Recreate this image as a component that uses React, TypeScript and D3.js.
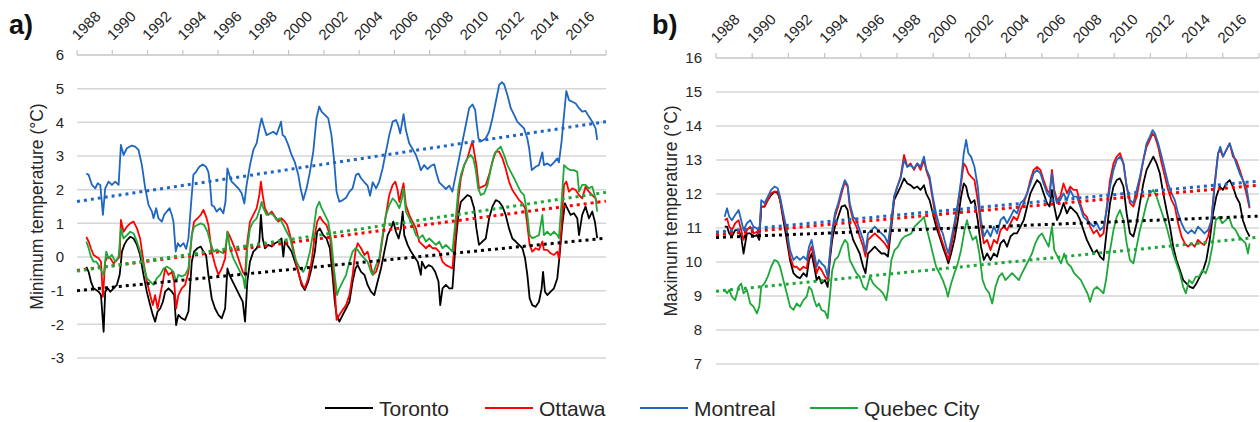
import React from 'react';
import * as d3 from 'd3';

type Pt = [number, number];

// Axis labels
const yearLabels = ['1988', '1990', '1992', '1994', '1996', '1998', '2000', '2002', '2004', '2006', '2008', '2010', '2012', '2014', '2016'];
const minTempTicks = [-3, -2, -1, 0, 1, 2, 3, 4, 5, 6];
const maxTempTicks = [7, 8, 9, 10, 11, 12, 13, 14, 15, 16];
const cities = ['Toronto', 'Ottawa', 'Montreal', 'Quebec City'];
const cityColors = ['#000000', '#ff0000', '#1f66c0', '#1fa83a'];

// a) minimum temperature, running mean (°C)
const minToronto: Pt[] = [[1988.53,-0.29],[1988.66,-0.44],[1988.79,-0.73],[1988.94,-0.93],[1989.09,-0.98],[1989.23,-1.03],[1989.36,-1.13],[1989.51,-2.22],[1989.60,-1.03],[1989.74,-0.93],[1989.89,-1.03],[1990.08,-0.93],[1990.26,-0.83],[1990.42,-0.53],[1990.55,0.16],[1990.68,0.36],[1990.83,0.50],[1991.02,0.60],[1991.21,0.55],[1991.40,0.36],[1991.58,0.06],[1991.77,-0.53],[1991.96,-1.03],[1992.15,-1.43],[1992.30,-1.72],[1992.43,-1.92],[1992.57,-1.62],[1992.72,-1.53],[1992.87,-1.33],[1993.00,-1.03],[1993.19,-0.93],[1993.38,-1.03],[1993.51,-1.13],[1993.62,-2.02],[1993.75,-1.72],[1993.94,-1.82],[1994.13,-1.87],[1994.32,-1.62],[1994.51,-0.14],[1994.64,0.16],[1994.83,0.26],[1995.02,0.31],[1995.17,0.16],[1995.32,0.06],[1995.45,-0.53],[1995.64,-1.23],[1995.83,-1.53],[1996.02,-1.72],[1996.21,-1.82],[1996.40,-1.53],[1996.53,-0.34],[1996.64,-0.53],[1996.83,-0.73],[1997.02,-0.93],[1997.21,-1.13],[1997.40,-1.33],[1997.53,-1.92],[1997.66,-0.73],[1997.81,-0.14],[1998.00,0.16],[1998.19,0.26],[1998.34,0.46],[1998.43,1.25],[1998.53,0.55],[1998.66,0.26],[1998.85,0.36],[1999.04,0.31],[1999.23,0.41],[1999.42,0.46],[1999.60,0.55],[1999.70,0.01],[1999.79,0.46],[1999.98,0.31],[2000.17,0.16],[2000.36,-0.14],[2000.55,-0.44],[2000.74,-0.83],[2000.92,-0.98],[2001.11,-0.73],[2001.30,-0.34],[2001.49,0.16],[2001.62,0.75],[2001.77,0.85],[2001.96,0.65],[2002.15,0.55],[2002.34,0.26],[2002.49,-0.53],[2002.62,-1.33],[2002.72,-1.72],[2002.88,-1.92],[2003.07,-1.72],[2003.26,-1.53],[2003.45,-1.33],[2003.63,-0.73],[2003.79,-0.34],[2003.92,-0.24],[2004.11,-0.44],[2004.30,-0.53],[2004.48,-0.83],[2004.67,-1.03],[2004.86,-1.13],[2005.05,-0.73],[2005.24,-0.34],[2005.43,0.16],[2005.62,0.65],[2005.81,0.85],[2005.94,1.05],[2006.09,0.75],[2006.24,0.55],[2006.37,0.85],[2006.47,1.35],[2006.56,0.65],[2006.75,0.36],[2006.94,0.16],[2007.13,0.01],[2007.32,-0.14],[2007.50,-0.53],[2007.56,-0.14],[2007.75,-0.34],[2007.94,-0.24],[2008.13,-0.29],[2008.31,-0.44],[2008.50,-0.73],[2008.60,-1.43],[2008.73,-0.93],[2008.92,-0.83],[2009.11,-0.93],[2009.29,-0.93],[2009.48,0.46],[2009.63,1.25],[2009.77,1.64],[2009.96,1.74],[2010.14,1.84],[2010.33,1.79],[2010.52,1.45],[2010.65,0.85],[2010.80,0.36],[2010.99,0.46],[2011.18,0.55],[2011.37,1.15],[2011.56,1.50],[2011.75,1.69],[2011.94,1.64],[2012.13,1.50],[2012.31,1.25],[2012.50,0.85],[2012.69,0.55],[2012.88,0.46],[2013.07,0.36],[2013.26,0.26],[2013.41,-0.04],[2013.54,-0.53],[2013.67,-1.23],[2013.82,-1.43],[2014.01,-1.48],[2014.20,-1.33],[2014.35,-0.93],[2014.43,-0.44],[2014.54,-1.03],[2014.67,-1.13],[2014.86,-1.03],[2015.05,-0.93],[2015.24,-0.63],[2015.37,0.06],[2015.52,0.95],[2015.67,1.59],[2015.80,1.45],[2015.99,1.25],[2016.18,1.30],[2016.37,1.15],[2016.47,0.65],[2016.65,1.25],[2016.84,1.50],[2017.03,1.15],[2017.22,1.35],[2017.37,1.05],[2017.50,0.56]];
const minOttawa: Pt[] = [[1988.53,0.60],[1988.66,0.46],[1988.79,0.26],[1988.94,0.06],[1989.09,0.01],[1989.23,-0.04],[1989.36,-0.14],[1989.47,-1.18],[1989.60,-0.14],[1989.74,0.01],[1989.89,-0.04],[1990.08,-0.19],[1990.26,-0.09],[1990.42,0.01],[1990.49,1.10],[1990.64,0.75],[1990.83,0.90],[1991.02,1.00],[1991.21,1.05],[1991.40,0.85],[1991.58,0.55],[1991.77,-0.14],[1991.96,-0.73],[1992.15,-1.13],[1992.30,-1.43],[1992.43,-1.13],[1992.57,-1.53],[1992.72,-1.13],[1992.87,-0.73],[1993.00,-0.34],[1993.19,-0.53],[1993.38,-0.44],[1993.51,-0.73],[1993.62,-1.53],[1993.75,-1.13],[1993.94,-0.93],[1994.13,-0.83],[1994.32,-0.44],[1994.51,0.65],[1994.64,1.05],[1994.83,1.15],[1995.02,1.25],[1995.17,1.40],[1995.32,1.20],[1995.45,0.95],[1995.64,0.16],[1995.83,-0.24],[1996.02,-0.53],[1996.21,-0.34],[1996.40,-0.04],[1996.53,0.75],[1996.64,0.65],[1996.83,0.41],[1997.02,0.16],[1997.21,-0.14],[1997.40,-0.44],[1997.53,-0.53],[1997.66,0.46],[1997.81,1.05],[1998.00,1.25],[1998.19,1.45],[1998.34,1.84],[1998.43,2.24],[1998.53,1.84],[1998.66,1.45],[1998.85,1.25],[1999.04,1.35],[1999.23,1.20],[1999.42,1.05],[1999.60,1.15],[1999.79,1.05],[1999.92,0.95],[2000.08,0.65],[2000.26,0.26],[2000.45,-0.24],[2000.64,-0.63],[2000.79,-0.83],[2000.92,-0.93],[2001.11,-0.63],[2001.30,-0.14],[2001.49,0.65],[2001.62,1.05],[2001.77,1.20],[2001.96,1.05],[2002.15,0.95],[2002.34,0.65],[2002.49,-0.14],[2002.62,-0.93],[2002.72,-1.87],[2002.88,-1.72],[2003.07,-1.57],[2003.26,-1.43],[2003.45,-1.13],[2003.63,-0.53],[2003.79,0.16],[2003.92,0.41],[2004.11,0.26],[2004.30,0.06],[2004.48,0.16],[2004.62,-0.14],[2004.77,-0.53],[2004.96,-0.44],[2005.14,-0.14],[2005.33,0.55],[2005.52,1.25],[2005.71,1.84],[2005.90,2.14],[2006.05,2.24],[2006.18,1.99],[2006.28,1.64],[2006.43,1.99],[2006.52,2.19],[2006.65,1.54],[2006.84,1.25],[2007.03,1.05],[2007.22,0.85],[2007.41,0.46],[2007.60,0.36],[2007.79,0.26],[2007.98,0.36],[2008.16,0.26],[2008.35,0.26],[2008.54,0.16],[2008.73,-0.14],[2008.92,-0.24],[2009.11,-0.29],[2009.29,-0.34],[2009.48,0.75],[2009.63,1.74],[2009.77,2.34],[2009.96,2.73],[2010.14,2.93],[2010.33,3.28],[2010.43,3.43],[2010.52,3.13],[2010.65,2.73],[2010.80,2.04],[2010.99,2.09],[2011.18,2.14],[2011.37,2.44],[2011.56,2.83],[2011.75,3.13],[2011.94,3.13],[2012.13,2.93],[2012.31,2.63],[2012.50,2.24],[2012.69,1.99],[2012.88,1.84],[2013.07,1.69],[2013.26,1.59],[2013.41,1.45],[2013.54,0.95],[2013.67,0.36],[2013.82,0.16],[2014.01,0.26],[2014.20,0.21],[2014.39,0.46],[2014.48,0.21],[2014.67,0.21],[2014.86,0.11],[2015.05,0.06],[2015.24,0.16],[2015.33,-0.04],[2015.48,0.95],[2015.62,2.14],[2015.75,2.24],[2015.90,1.94],[2016.09,2.04],[2016.28,1.99],[2016.47,1.84],[2016.65,1.74],[2016.84,2.09],[2017.03,1.94],[2017.22,1.84],[2017.41,1.74],[2017.50,1.59]];
const minMontreal: Pt[] = [[1988.53,2.48],[1988.66,2.44],[1988.85,2.14],[1989.04,2.04],[1989.17,2.19],[1989.32,2.14],[1989.47,1.25],[1989.60,2.04],[1989.79,2.24],[1989.98,2.14],[1990.17,2.24],[1990.36,2.14],[1990.49,3.33],[1990.64,3.03],[1990.83,3.23],[1991.11,3.31],[1991.30,3.28],[1991.49,3.18],[1991.68,2.73],[1991.87,2.04],[1992.06,1.54],[1992.25,1.35],[1992.34,1.15],[1992.49,1.45],[1992.62,1.15],[1992.81,1.05],[1992.94,1.25],[1993.09,1.35],[1993.25,1.45],[1993.38,1.25],[1993.47,1.05],[1993.60,0.16],[1993.72,0.41],[1993.85,0.31],[1994.04,0.41],[1994.19,0.24],[1994.32,0.56],[1994.45,1.45],[1994.60,2.44],[1994.75,2.53],[1994.94,2.68],[1995.13,2.75],[1995.32,2.68],[1995.45,2.53],[1995.55,2.14],[1995.64,1.54],[1995.77,1.50],[1995.92,1.35],[1996.11,1.45],[1996.30,1.30],[1996.42,1.64],[1996.53,2.63],[1996.64,2.44],[1996.77,2.24],[1996.96,2.14],[1997.15,2.04],[1997.34,1.89],[1997.49,1.59],[1997.62,2.14],[1997.81,2.73],[1998.00,3.18],[1998.19,3.38],[1998.34,3.82],[1998.47,4.12],[1998.57,3.92],[1998.75,3.62],[1998.94,3.67],[1999.13,3.72],[1999.32,3.64],[1999.51,3.92],[1999.57,4.02],[1999.66,3.62],[1999.79,3.57],[1999.98,3.33],[2000.17,3.03],[2000.36,2.81],[2000.55,2.44],[2000.68,2.04],[2000.83,1.69],[2001.02,2.04],[2001.21,2.53],[2001.40,3.13],[2001.58,4.12],[2001.74,4.47],[2001.87,4.32],[2002.06,4.22],[2002.25,4.12],[2002.43,3.62],[2002.57,2.93],[2002.72,1.94],[2002.88,1.64],[2003.07,1.69],[2003.26,1.76],[2003.45,1.94],[2003.63,2.04],[2003.82,2.44],[2003.96,2.48],[2004.11,2.34],[2004.30,2.22],[2004.48,2.12],[2004.62,1.82],[2004.77,2.22],[2004.96,2.04],[2005.14,2.24],[2005.33,2.63],[2005.52,3.13],[2005.71,3.62],[2005.90,4.02],[2006.09,4.07],[2006.22,3.90],[2006.33,3.67],[2006.43,3.97],[2006.52,4.24],[2006.65,3.77],[2006.84,3.38],[2007.03,3.21],[2007.22,3.03],[2007.37,2.81],[2007.50,2.58],[2007.69,2.73],[2007.88,2.61],[2008.07,2.71],[2008.26,2.75],[2008.41,2.44],[2008.54,2.22],[2008.73,2.12],[2008.92,2.02],[2009.11,2.12],[2009.29,1.94],[2009.48,2.44],[2009.67,2.93],[2009.86,3.43],[2010.05,3.92],[2010.24,4.42],[2010.43,4.53],[2010.58,4.37],[2010.65,4.02],[2010.77,3.52],[2010.90,3.43],[2011.18,3.52],[2011.37,3.72],[2011.56,4.12],[2011.75,4.61],[2011.94,5.11],[2012.09,5.19],[2012.22,5.13],[2012.41,4.81],[2012.60,4.42],[2012.79,4.22],[2012.97,4.02],[2013.16,3.92],[2013.35,3.82],[2013.54,3.52],[2013.64,3.23],[2013.79,2.58],[2014.01,2.68],[2014.20,2.73],[2014.39,3.11],[2014.48,2.73],[2014.67,2.78],[2014.86,2.71],[2015.05,2.81],[2015.24,2.93],[2015.33,2.81],[2015.48,3.43],[2015.62,4.22],[2015.75,4.93],[2015.90,4.66],[2016.09,4.61],[2016.28,4.56],[2016.47,4.42],[2016.65,4.32],[2016.84,4.34],[2017.03,4.17],[2017.22,4.02],[2017.41,3.82],[2017.50,3.48]];
const minQuebec: Pt[] = [[1988.53,0.46],[1988.66,0.26],[1988.79,0.01],[1988.94,-0.14],[1989.09,-0.14],[1989.23,-0.24],[1989.36,-0.39],[1989.51,-0.53],[1989.66,0.16],[1989.79,-0.04],[1989.98,0.06],[1990.17,-0.14],[1990.36,0.01],[1990.49,0.85],[1990.64,0.55],[1990.83,0.65],[1991.02,0.75],[1991.21,0.70],[1991.40,0.46],[1991.58,0.16],[1991.77,-0.24],[1991.96,-0.63],[1992.15,-0.73],[1992.34,-0.83],[1992.53,-0.63],[1992.72,-0.53],[1992.91,-0.34],[1993.09,-0.29],[1993.28,-0.34],[1993.47,-0.44],[1993.62,-0.73],[1993.75,-0.53],[1993.94,-0.58],[1994.13,-0.53],[1994.32,-0.34],[1994.51,0.65],[1994.64,0.90],[1994.83,0.95],[1995.02,1.00],[1995.21,0.95],[1995.40,0.75],[1995.55,0.46],[1995.74,0.16],[1995.92,0.21],[1996.11,0.16],[1996.30,0.11],[1996.42,0.26],[1996.53,0.75],[1996.68,0.26],[1996.87,-0.04],[1997.06,-0.24],[1997.25,-0.44],[1997.43,-0.63],[1997.53,-0.93],[1997.66,0.26],[1997.81,0.85],[1998.00,1.05],[1998.19,1.15],[1998.38,1.45],[1998.47,1.64],[1998.57,1.45],[1998.75,1.25],[1998.94,1.30],[1999.13,1.25],[1999.32,1.10],[1999.51,1.15],[1999.70,0.95],[1999.89,0.75],[2000.08,0.56],[2000.26,0.16],[2000.45,-0.14],[2000.64,-0.34],[2000.83,-0.44],[2001.02,-0.24],[2001.21,0.16],[2001.40,0.75],[2001.58,1.45],[2001.74,1.64],[2001.87,1.45],[2002.06,1.25],[2002.25,1.05],[2002.43,0.46],[2002.57,-0.34],[2002.75,-1.13],[2002.88,-0.93],[2003.07,-0.73],[2003.26,-0.53],[2003.45,-0.14],[2003.63,0.16],[2003.79,0.26],[2003.92,0.21],[2004.11,0.06],[2004.30,-0.04],[2004.48,-0.14],[2004.67,-0.44],[2004.77,-0.53],[2004.96,-0.24],[2005.14,-0.04],[2005.33,0.65],[2005.52,1.25],[2005.71,1.54],[2005.90,1.74],[2006.09,1.64],[2006.28,1.45],[2006.43,1.74],[2006.52,2.04],[2006.65,1.35],[2006.84,1.15],[2007.03,0.95],[2007.22,0.65],[2007.41,0.56],[2007.60,0.65],[2007.79,0.46],[2007.98,0.55],[2008.16,0.46],[2008.35,0.36],[2008.54,0.46],[2008.73,0.26],[2008.92,0.36],[2009.11,0.26],[2009.29,0.16],[2009.48,1.15],[2009.63,2.04],[2009.77,2.44],[2009.96,2.73],[2010.14,2.93],[2010.33,3.03],[2010.47,2.93],[2010.60,2.63],[2010.75,2.04],[2010.90,1.84],[2011.09,1.89],[2011.28,2.14],[2011.47,2.63],[2011.65,3.03],[2011.84,3.18],[2012.03,3.28],[2012.22,3.03],[2012.41,2.73],[2012.60,2.53],[2012.79,2.34],[2012.97,2.14],[2013.16,1.94],[2013.35,1.84],[2013.54,1.25],[2013.67,0.65],[2013.82,0.56],[2014.01,0.60],[2014.20,0.65],[2014.39,1.25],[2014.48,0.65],[2014.67,0.75],[2014.86,0.65],[2015.05,0.75],[2015.24,0.65],[2015.33,0.56],[2015.48,1.64],[2015.62,2.73],[2015.81,2.63],[2015.99,2.58],[2016.18,2.58],[2016.37,2.53],[2016.47,1.94],[2016.65,2.14],[2016.84,2.14],[2017.03,2.04],[2017.22,2.09],[2017.41,1.74],[2017.50,1.35]];

// a) linear trends (value at 1988, value at 2018)
const minTrendToronto = [-1.0, 0.56];
const minTrendOttawa = [-0.40, 1.66];
const minTrendMontreal = [1.65, 4.02];
const minTrendQuebec = [-0.42, 1.92];

// b) maximum temperature, running mean (°C)
const maxToronto: Pt[] = [[1988.48,11.04],[1988.61,11.04],[1988.73,10.84],[1988.88,10.75],[1989.06,10.94],[1989.25,10.94],[1989.39,10.75],[1989.52,10.25],[1989.71,10.84],[1989.89,10.84],[1990.07,10.75],[1990.26,10.79],[1990.39,10.65],[1990.50,11.63],[1990.68,11.63],[1990.86,11.82],[1991.05,11.97],[1991.23,12.07],[1991.41,12.02],[1991.54,11.82],[1991.72,11.23],[1991.91,10.65],[1992.09,10.06],[1992.28,9.67],[1992.46,9.57],[1992.64,9.52],[1992.83,9.67],[1993.01,9.57],[1993.14,10.06],[1993.28,10.25],[1993.43,9.86],[1993.56,9.47],[1993.69,9.57],[1993.83,9.37],[1994.02,9.47],[1994.17,9.27],[1994.29,10.06],[1994.42,10.65],[1994.57,11.04],[1994.75,11.33],[1994.94,11.63],[1995.12,11.67],[1995.27,11.53],[1995.39,11.04],[1995.58,10.65],[1995.76,10.45],[1995.94,10.25],[1996.13,9.86],[1996.26,9.67],[1996.40,10.25],[1996.59,10.35],[1996.77,10.45],[1996.95,10.35],[1997.14,10.25],[1997.32,10.25],[1997.50,10.16],[1997.69,11.04],[1997.84,11.82],[1998.02,12.02],[1998.20,12.22],[1998.39,12.46],[1998.57,12.31],[1998.75,12.26],[1998.94,12.17],[1999.12,12.22],[1999.30,12.12],[1999.49,12.26],[1999.61,12.02],[1999.80,11.82],[1999.98,11.43],[2000.16,11.04],[2000.35,10.75],[2000.53,10.45],[2000.72,10.16],[2000.84,9.96],[2000.99,10.25],[2001.17,10.65],[2001.36,11.23],[2001.54,11.92],[2001.69,12.31],[2001.82,12.22],[2001.94,11.92],[2002.09,11.73],[2002.28,11.82],[2002.46,11.23],[2002.64,10.45],[2002.80,10.06],[2002.98,10.25],[2003.17,10.06],[2003.35,10.25],[2003.53,10.16],[2003.72,10.55],[2003.90,10.65],[2004.08,10.45],[2004.27,10.75],[2004.45,10.84],[2004.63,10.84],[2004.82,11.04],[2005.00,11.23],[2005.19,11.63],[2005.37,12.02],[2005.55,12.22],[2005.74,12.41],[2005.92,12.31],[2006.10,12.02],[2006.29,11.73],[2006.43,11.63],[2006.56,12.12],[2006.69,11.63],[2006.84,11.23],[2007.02,11.43],[2007.20,11.73],[2007.39,11.43],[2007.57,11.63],[2007.75,11.53],[2007.94,11.43],[2008.12,11.23],[2008.30,10.94],[2008.49,10.65],[2008.67,10.45],[2008.86,10.25],[2009.04,10.35],[2009.22,10.16],[2009.41,10.06],[2009.59,10.94],[2009.77,11.73],[2009.96,12.22],[2010.14,12.41],[2010.32,12.46],[2010.51,12.22],[2010.69,11.43],[2010.87,10.84],[2011.06,10.75],[2011.24,11.14],[2011.42,11.73],[2011.61,12.31],[2011.79,12.71],[2011.97,12.90],[2012.16,13.10],[2012.34,12.90],[2012.52,12.61],[2012.71,12.02],[2012.89,11.53],[2013.08,11.04],[2013.26,10.45],[2013.44,10.06],[2013.63,9.76],[2013.81,9.47],[2013.99,9.37],[2014.18,9.27],[2014.36,9.23],[2014.54,9.37],[2014.73,9.57],[2014.91,9.76],[2015.09,10.06],[2015.28,10.65],[2015.46,11.43],[2015.64,11.92],[2015.83,12.22],[2016.01,12.12],[2016.19,12.31],[2016.38,12.41],[2016.56,12.22],[2016.74,11.92],[2016.93,11.73],[2017.11,11.23],[2017.30,10.94],[2017.48,10.75]];
const maxOttawa: Pt[] = [[1988.48,11.23],[1988.61,11.28],[1988.73,11.04],[1988.88,10.94],[1989.06,11.14],[1989.25,11.23],[1989.39,10.94],[1989.52,10.65],[1989.71,10.94],[1989.89,11.04],[1990.07,10.84],[1990.26,10.89],[1990.39,10.75],[1990.50,11.63],[1990.68,11.63],[1990.86,11.82],[1991.05,12.02],[1991.23,12.07],[1991.41,12.07],[1991.54,11.82],[1991.72,11.33],[1991.91,10.84],[1992.09,10.16],[1992.28,9.86],[1992.46,9.86],[1992.64,9.76],[1992.83,9.86],[1993.01,9.81],[1993.14,10.25],[1993.28,10.45],[1993.43,10.06],[1993.56,9.67],[1993.69,9.86],[1993.83,9.76],[1994.02,9.57],[1994.17,9.47],[1994.29,10.16],[1994.42,10.84],[1994.57,11.33],[1994.75,11.63],[1994.94,12.02],[1995.12,12.36],[1995.27,12.22],[1995.39,11.63],[1995.58,11.23],[1995.76,11.04],[1995.94,10.75],[1996.13,10.45],[1996.26,10.16],[1996.40,10.65],[1996.59,10.75],[1996.77,10.84],[1996.95,10.75],[1997.14,10.65],[1997.32,10.55],[1997.50,10.40],[1997.69,11.14],[1997.84,11.92],[1998.02,12.22],[1998.20,12.51],[1998.39,13.15],[1998.57,12.80],[1998.75,12.90],[1998.94,12.71],[1999.12,12.90],[1999.30,12.71],[1999.49,13.00],[1999.61,12.71],[1999.80,12.41],[1999.98,11.82],[2000.16,11.23],[2000.35,10.84],[2000.53,10.55],[2000.72,10.25],[2000.84,10.06],[2000.99,10.45],[2001.17,10.94],[2001.36,11.63],[2001.54,12.31],[2001.69,12.90],[2001.82,12.80],[2001.94,12.61],[2002.09,12.51],[2002.28,12.41],[2002.46,11.82],[2002.64,11.04],[2002.80,10.55],[2002.98,10.65],[2003.17,10.35],[2003.35,10.65],[2003.53,10.55],[2003.72,10.94],[2003.90,11.04],[2004.08,10.94],[2004.27,11.14],[2004.45,11.33],[2004.63,11.23],[2004.82,11.53],[2005.00,11.73],[2005.19,12.02],[2005.37,12.41],[2005.55,12.71],[2005.74,12.80],[2005.92,12.71],[2006.10,12.41],[2006.29,12.12],[2006.43,12.02],[2006.56,12.71],[2006.69,12.12],[2006.84,11.82],[2007.02,11.92],[2007.20,12.31],[2007.39,12.02],[2007.57,12.22],[2007.75,12.12],[2007.94,12.12],[2008.12,11.73],[2008.30,11.43],[2008.49,11.33],[2008.67,11.04],[2008.86,10.84],[2009.04,10.94],[2009.22,10.75],[2009.41,10.84],[2009.59,11.63],[2009.77,12.41],[2009.96,12.90],[2010.14,13.10],[2010.32,13.20],[2010.51,12.90],[2010.69,12.22],[2010.87,11.73],[2011.06,11.63],[2011.24,11.92],[2011.42,12.41],[2011.61,13.00],[2011.79,13.39],[2011.97,13.59],[2012.12,13.78],[2012.25,13.69],[2012.43,13.39],[2012.62,12.90],[2012.80,12.51],[2012.98,12.12],[2013.17,11.82],[2013.35,11.63],[2013.53,11.14],[2013.72,10.75],[2013.90,10.55],[2014.08,10.45],[2014.27,10.55],[2014.45,10.45],[2014.63,10.65],[2014.82,10.55],[2014.98,10.50],[2015.19,10.75],[2015.37,11.23],[2015.55,12.31],[2015.74,13.20],[2015.86,13.29],[2016.01,13.10],[2016.19,13.29],[2016.38,13.49],[2016.56,13.10],[2016.74,13.00],[2016.93,12.71],[2017.11,12.41],[2017.30,12.02],[2017.48,11.58]];
const maxMontreal: Pt[] = [[1988.48,11.33],[1988.61,11.58],[1988.73,11.33],[1988.88,11.23],[1989.06,11.38],[1989.25,11.53],[1989.39,11.23],[1989.52,10.94],[1989.71,11.14],[1989.89,11.23],[1990.07,11.04],[1990.26,10.99],[1990.39,10.84],[1990.50,11.82],[1990.68,11.73],[1990.86,11.92],[1991.05,12.12],[1991.23,12.22],[1991.41,12.17],[1991.54,11.92],[1991.72,11.43],[1991.91,10.94],[1992.09,10.35],[1992.28,10.06],[1992.46,10.16],[1992.64,10.06],[1992.83,10.16],[1993.01,10.06],[1993.14,10.45],[1993.28,10.65],[1993.43,10.25],[1993.56,9.86],[1993.69,10.06],[1993.83,9.96],[1994.02,9.86],[1994.17,9.57],[1994.29,10.25],[1994.42,10.94],[1994.57,11.43],[1994.75,11.73],[1994.94,12.12],[1995.12,12.41],[1995.27,12.26],[1995.39,11.73],[1995.58,11.33],[1995.76,11.23],[1995.94,10.94],[1996.13,10.65],[1996.26,10.30],[1996.40,10.84],[1996.59,10.94],[1996.77,11.04],[1996.95,10.94],[1997.14,10.84],[1997.32,10.75],[1997.50,10.55],[1997.69,11.23],[1997.84,11.92],[1998.02,12.22],[1998.20,12.46],[1998.39,13.00],[1998.57,12.80],[1998.75,12.85],[1998.94,12.75],[1999.12,12.90],[1999.30,12.80],[1999.49,13.10],[1999.61,12.75],[1999.80,12.51],[1999.98,11.92],[2000.16,11.43],[2000.35,11.04],[2000.53,10.84],[2000.72,10.45],[2000.84,10.25],[2000.99,10.65],[2001.17,11.14],[2001.36,11.73],[2001.54,12.41],[2001.69,13.20],[2001.82,13.59],[2001.94,13.20],[2002.09,13.10],[2002.28,12.80],[2002.46,12.22],[2002.64,11.23],[2002.80,10.75],[2002.98,10.94],[2003.17,10.75],[2003.35,11.04],[2003.53,10.84],[2003.72,11.23],[2003.90,11.33],[2004.08,11.14],[2004.27,11.33],[2004.45,11.53],[2004.63,11.43],[2004.82,11.73],[2005.00,11.82],[2005.19,12.02],[2005.37,12.31],[2005.55,12.61],[2005.74,12.71],[2005.92,12.61],[2006.10,12.31],[2006.29,12.02],[2006.43,11.92],[2006.56,12.61],[2006.69,12.02],[2006.84,11.73],[2007.02,11.82],[2007.20,12.02],[2007.39,11.82],[2007.57,12.12],[2007.75,11.92],[2007.94,11.92],[2008.12,11.63],[2008.30,11.33],[2008.49,11.23],[2008.67,11.14],[2008.86,11.04],[2009.04,11.14],[2009.22,10.94],[2009.41,11.04],[2009.59,11.53],[2009.77,12.22],[2009.96,12.71],[2010.14,13.00],[2010.32,13.10],[2010.51,12.90],[2010.69,12.22],[2010.87,11.82],[2011.06,11.73],[2011.24,12.12],[2011.42,12.51],[2011.61,13.00],[2011.79,13.49],[2011.97,13.69],[2012.12,13.88],[2012.25,13.78],[2012.43,13.49],[2012.62,13.10],[2012.80,12.71],[2012.98,12.31],[2013.17,12.02],[2013.35,11.82],[2013.53,11.43],[2013.72,11.14],[2013.90,10.94],[2014.08,10.84],[2014.27,10.94],[2014.45,10.84],[2014.63,11.04],[2014.82,10.94],[2014.98,10.84],[2015.19,10.94],[2015.37,11.23],[2015.55,12.22],[2015.74,13.20],[2015.86,13.39],[2016.01,13.10],[2016.19,13.29],[2016.38,13.49],[2016.56,13.20],[2016.74,12.90],[2016.93,12.61],[2017.11,12.41],[2017.30,12.22],[2017.48,11.63]];
const maxQuebec: Pt[] = [[1988.48,9.18],[1988.61,9.08],[1988.73,9.18],[1988.88,8.98],[1989.06,8.88],[1989.25,9.27],[1989.39,9.37],[1989.52,9.08],[1989.71,9.18],[1989.89,8.78],[1990.07,8.69],[1990.26,8.49],[1990.39,8.69],[1990.50,9.27],[1990.68,9.37],[1990.86,9.57],[1991.05,9.86],[1991.23,10.06],[1991.41,10.01],[1991.54,9.86],[1991.72,9.47],[1991.91,9.08],[1992.09,8.69],[1992.28,8.59],[1992.46,8.78],[1992.64,8.69],[1992.83,8.88],[1993.01,8.98],[1993.14,9.27],[1993.28,9.18],[1993.43,8.88],[1993.56,8.69],[1993.69,8.78],[1993.83,8.59],[1994.02,8.54],[1994.17,8.34],[1994.29,8.98],[1994.42,9.76],[1994.57,10.06],[1994.75,10.16],[1994.94,10.45],[1995.12,10.65],[1995.27,10.55],[1995.39,10.06],[1995.58,9.86],[1995.76,9.67],[1995.94,9.57],[1996.13,9.27],[1996.31,9.18],[1996.50,9.57],[1996.68,9.37],[1996.86,9.27],[1997.05,9.18],[1997.23,9.08],[1997.41,8.88],[1997.50,9.18],[1997.69,10.06],[1997.87,10.35],[1998.06,10.45],[1998.24,10.65],[1998.42,10.75],[1998.61,10.79],[1998.79,10.84],[1998.97,11.04],[1999.16,11.14],[1999.34,11.23],[1999.49,11.33],[1999.61,11.04],[1999.80,10.65],[1999.98,10.25],[2000.16,9.86],[2000.35,9.67],[2000.53,9.47],[2000.72,9.18],[2000.81,8.98],[2000.99,9.37],[2001.17,9.67],[2001.36,9.96],[2001.54,10.35],[2001.73,10.94],[2001.87,11.23],[2001.99,10.94],[2002.18,10.65],[2002.37,10.75],[2002.55,10.25],[2002.73,9.47],[2002.90,9.22],[2003.08,9.10],[2003.26,8.78],[2003.44,9.27],[2003.63,9.57],[2003.81,9.67],[2003.99,9.47],[2004.18,9.57],[2004.36,9.67],[2004.54,9.57],[2004.73,9.47],[2004.91,9.67],[2005.09,9.86],[2005.28,10.06],[2005.46,10.25],[2005.64,10.55],[2005.83,10.75],[2006.01,10.84],[2006.19,10.65],[2006.38,10.45],[2006.56,11.04],[2006.69,10.35],[2006.87,10.16],[2007.06,9.96],[2007.24,10.25],[2007.42,9.96],[2007.61,9.86],[2007.79,9.67],[2007.97,9.57],[2008.16,9.47],[2008.34,9.27],[2008.52,9.08],[2008.67,8.83],[2008.86,9.18],[2009.04,9.27],[2009.22,9.18],[2009.41,9.08],[2009.55,9.47],[2009.74,10.25],[2009.96,10.94],[2010.14,11.33],[2010.32,11.53],[2010.51,11.23],[2010.69,10.55],[2010.87,10.06],[2011.06,9.96],[2011.24,10.45],[2011.42,10.94],[2011.61,11.33],[2011.79,11.73],[2011.97,12.02],[2012.16,12.12],[2012.34,11.92],[2012.52,11.63],[2012.71,11.33],[2012.89,11.04],[2013.08,10.65],[2013.26,10.25],[2013.44,9.96],[2013.63,9.67],[2013.81,9.27],[2013.96,9.08],[2014.14,9.47],[2014.32,9.37],[2014.51,9.57],[2014.69,9.57],[2014.87,9.76],[2015.06,9.67],[2015.24,9.96],[2015.42,10.45],[2015.61,11.23],[2015.79,11.33],[2015.97,11.14],[2016.16,11.23],[2016.34,11.33],[2016.52,11.04],[2016.71,10.94],[2016.89,10.75],[2017.08,10.65],[2017.26,10.55],[2017.39,10.25],[2017.48,10.55]];

// b) linear trends (value at 1988, value at 2018)
const maxTrendToronto = [10.72, 11.35];
const maxTrendOttawa = [10.80, 12.26];
const maxTrendMontreal = [10.88, 12.38];
const maxTrendQuebec = [9.14, 10.73];

const FONT = '"Liberation Sans", Arial, Helvetica, sans-serif';
const TEXT = '#262626';

interface PanelProps {
  tag: string;
  tagX: number;
  title: string;
  titleX: number;
  labelRight: number;
  x0: number;
  x1: number;
  yTop: number;
  yBottom: number;
  yTicks: number[];
  series: Pt[][];
  trends: number[][];
}

function Panel(p: PanelProps) {
  const x = d3.scaleLinear().domain([1988, 2018]).range([p.x0, p.x1]);
  const y = d3.scaleLinear().domain([p.yTicks[0], p.yTicks[p.yTicks.length - 1]]).range([p.yBottom, p.yTop]);
  const line = d3.line<Pt>().x(d => x(d[0])).y(d => y(d[1]));
  const tickYears = d3.range(1988, 2019, 2);
  const midY = (p.yTop + p.yBottom) / 2;

  return (
    <g>
      <text x={p.tagX} y={34} fontFamily={FONT} fontWeight="bold" fontSize={27} fill="#111">{p.tag}</text>

      {/* horizontal gridlines */}
      {p.yTicks.slice(0, -1).map(t => (
        <line key={`g${t}`} x1={p.x0} x2={p.x1} y1={y(t)} y2={y(t)} stroke="#d6d6d6" strokeWidth={1.5} />
      ))}

      {/* top date axis */}
      <line x1={p.x0} x2={p.x1} y1={p.yTop} y2={p.yTop} stroke="#c4c4c4" strokeWidth={1.5} />
      {tickYears.map(yr => (
        <line key={`t${yr}`} x1={x(yr)} x2={x(yr)} y1={p.yTop} y2={p.yTop - 5} stroke="#c4c4c4" strokeWidth={1.2} />
      ))}
      {yearLabels.map(lbl => {
        const tx = x(+lbl) + 1;
        const ty = p.yTop - 14;
        return (
          <text key={`l${lbl}`} x={tx} y={ty} transform={`rotate(-45 ${tx} ${ty})`} fontFamily={FONT} fontSize={15} fill={TEXT}>{lbl}</text>
        );
      })}

      {/* value axis labels */}
      {p.yTicks.map(t => (
        <text key={`v${t}`} x={p.labelRight} y={y(t)} dy="0.36em" textAnchor="end" fontFamily={FONT} fontSize={15} fill={TEXT}>{t}</text>
      ))}
      <text x={p.titleX} y={midY} transform={`rotate(-90 ${p.titleX} ${midY})`} textAnchor="middle" fontFamily={FONT} fontSize={17.5} fill={TEXT}>{p.title}</text>

      {/* series */}
      {p.series.map((s, i) => (
        <path key={`s${i}`} d={line(s) ?? ''} fill="none" stroke={cityColors[i]} strokeWidth={1.8} strokeLinejoin="round" />
      ))}

      {/* trend lines */}
      {p.trends.map((tr, i) => (
        <path key={`r${i}`} d={line([[1988, tr[0]], [2018, tr[1]]]) ?? ''} fill="none" stroke={cityColors[i]} strokeWidth={3} strokeDasharray="3 4" />
      ))}
    </g>
  );
}

export default function App() {
  const legendX = [325, 485, 640, 810];
  return (
    <svg width={1260} height={422} style={{ position: 'absolute', left: 0, top: 0, background: '#fff' }}>
      <rect width={1260} height={422} fill="#fff" />
      <Panel
        tag="a)" tagX={9} title="Minimum temperature (°C)" titleX={43} labelRight={64}
        x0={77} x1={606} yTop={55} yBottom={358} yTicks={minTempTicks}
        series={[minToronto, minOttawa, minMontreal, minQuebec]}
        trends={[minTrendToronto, minTrendOttawa, minTrendMontreal, minTrendQuebec]}
      />
      <Panel
        tag="b)" tagX={652} title="Maximum temperature (°C)" titleX={677} labelRight={702}
        x0={716} x1={1259} yTop={58} yBottom={364} yTicks={maxTempTicks}
        series={[maxToronto, maxOttawa, maxMontreal, maxQuebec]}
        trends={[maxTrendToronto, maxTrendOttawa, maxTrendMontreal, maxTrendQuebec]}
      />
      {/* legend */}
      {cities.map((c, i) => (
        <g key={c}>
          <line x1={legendX[i]} x2={legendX[i] + 48} y1={408} y2={408} stroke={cityColors[i]} strokeWidth={2} />
          <text x={legendX[i] + 54} y={415.5} fontFamily={FONT} fontSize={21} fill={TEXT}>{c}</text>
        </g>
      ))}
    </svg>
  );
}
